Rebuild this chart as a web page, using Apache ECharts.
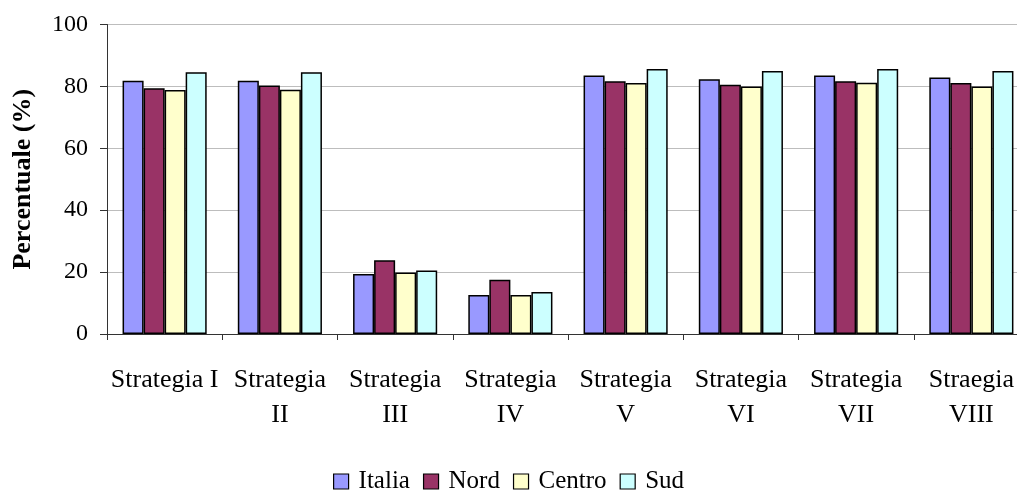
<!DOCTYPE html>
<html>
<head>
<meta charset="utf-8">
<script src="https://cdn.jsdelivr.net/npm/echarts@6/dist/echarts.min.js"></script>
<style>
  html, body { margin: 0; padding: 0; background: #fff; overflow: hidden; }
  /* the plot runs a little past the right edge of the window */
  #chart { width: 1029px; height: 491px; }
</style>
</head>
<body>
<div id="chart"></div>
<script>
// Share of respondents per strategy, by area
var categories = ['Strategia I', 'Strategia\nII', 'Strategia\nIII', 'Strategia\nIV',
                  'Strategia\nV', 'Strategia\nVI', 'Strategia\nVII', 'Straegia\nVIII'];
var italia = [81.8, 81.8, 19.4, 12.6, 83.5, 82.3, 83.5, 82.9];
var nord   = [79.4, 80.3, 23.8, 17.5, 81.7, 80.5, 81.7, 81.1];
var centro = [78.8, 78.9, 19.9, 12.6, 81.1, 80.0, 81.2, 80.0];
var sud    = [84.6, 84.6, 20.5, 13.6, 85.6, 85.0, 85.6, 85.0];
var yTicks = [0, 20, 40, 60, 80, 100];

var FONT = '"Liberation Serif", "Times New Roman", serif';

function bar(name, data, color) {
  return {
    name: name,
    type: 'bar',
    data: data,
    barGap: '0%',
    barCategoryGap: '27%',
    itemStyle: { color: color, borderColor: '#000', borderWidth: 1.5 }
  };
}

var chart = echarts.init(document.getElementById('chart'), null, { renderer: 'canvas' });
chart.setOption({
  animation: false,
  textStyle: { fontFamily: FONT },
  grid: { left: 107, right: 0, top: 24.5, bottom: 157 },
  legend: {
    top: 469,
    left: 333,
    padding: 0,
    itemWidth: 15,
    itemHeight: 15,
    itemGap: 13,
    icon: 'rect',
    itemStyle: { borderColor: '#000', borderWidth: 1.2 },
    textStyle: { fontFamily: FONT, fontSize: 25, color: '#000', padding: [0, 0, 0, 5] },
    data: ['Italia', 'Nord', 'Centro', 'Sud']
  },
  xAxis: {
    type: 'category',
    data: categories,
    axisLine: { lineStyle: { color: '#333', width: 1 } },
    axisTick: { show: true, length: 6, alignWithLabel: false, lineStyle: { color: '#333' } },
    axisLabel: {
      fontFamily: FONT, fontSize: 26, color: '#000',
      margin: 29, lineHeight: 35, interval: 0
    },
    splitLine: { show: false }
  },
  yAxis: {
    type: 'value',
    min: yTicks[0],
    max: yTicks[yTicks.length - 1],
    interval: 20,
    name: 'Percentuale (%)',
    nameLocation: 'middle',
    nameGap: 71,
    nameRotate: 90,
    nameTextStyle: { fontFamily: FONT, fontSize: 26, fontWeight: 'bold', color: '#000' },
    axisLine: { show: true, lineStyle: { color: '#333', width: 1 } },
    axisTick: { show: true, length: 7, lineStyle: { color: '#333' } },
    axisLabel: { fontFamily: FONT, fontSize: 24, color: '#000', margin: 19 },
    splitLine: { show: true, lineStyle: { color: '#bdbdbd', width: 1 } }
  },
  series: [
    bar('Italia', italia, '#9999FF'),
    bar('Nord', nord, '#993366'),
    bar('Centro', centro, '#FFFFCC'),
    bar('Sud', sud, '#CCFFFF')
  ]
});
</script>
</body>
</html>
